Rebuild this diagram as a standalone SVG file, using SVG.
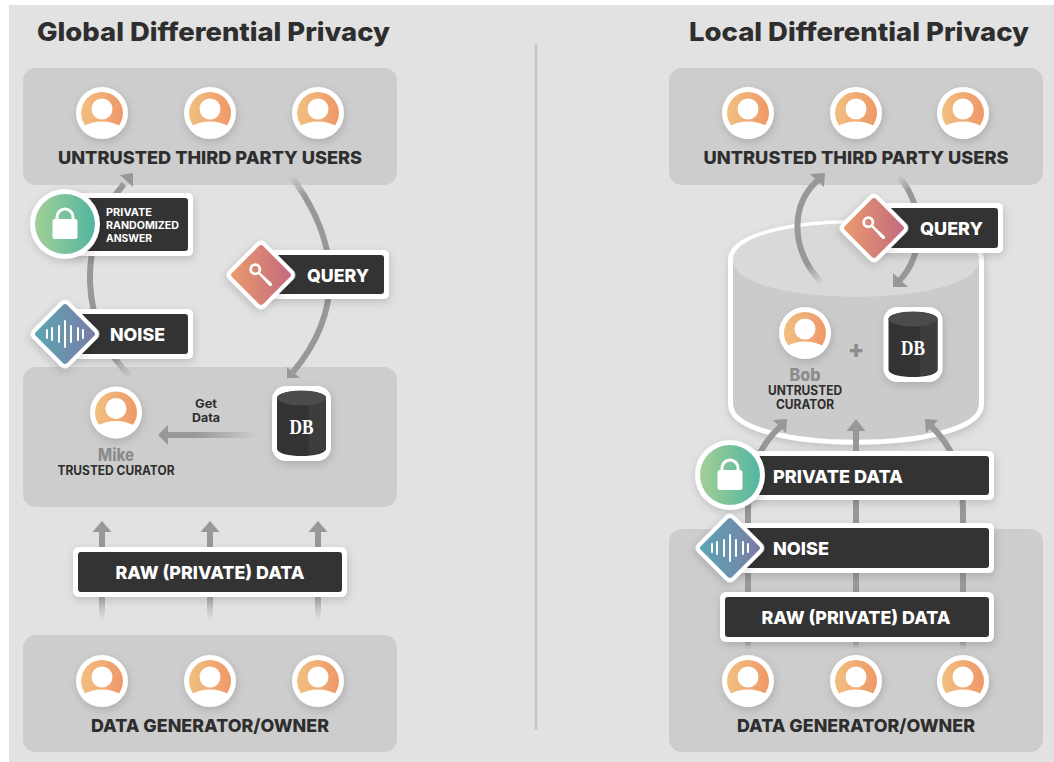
<svg xmlns="http://www.w3.org/2000/svg" width="1054" height="762" viewBox="0 0 1054 762">
<style>
text{font-family:Inter,"Liberation Sans",Arial,sans-serif;font-weight:800}
.panel{fill:#cdcdcd}
.lab{fill:#333}
.w{fill:#fff}
.t{fill:#2e2e2e}
.g{fill:#8c8c8c}
.arc{fill:none;stroke-width:6}
.head{fill:#989898}
.m{text-anchor:middle}
.box{fill:#fff;filter:url(#sh)}
.sm{font-weight:700}
</style>
<defs>
<filter id="sh" x="-30%" y="-30%" width="160%" height="170%"><feDropShadow dx="1" dy="3" stdDeviation="4" flood-color="#000" flood-opacity=".16"/></filter>
<linearGradient id="gp"><stop offset="0" stop-color="#f1c080"/><stop offset="1" stop-color="#ef9868"/></linearGradient>
<linearGradient id="gl"><stop offset="0" stop-color="#a2d096"/><stop offset="1" stop-color="#52b5a2"/></linearGradient>
<linearGradient id="gk" gradientUnits="userSpaceOnUse" x1="-30" y1="0" x2="30" y2="0" gradientTransform="rotate(-45)"><stop offset="0" stop-color="#ea9a6e"/><stop offset="1" stop-color="#c36a7e"/></linearGradient>
<linearGradient id="gn" gradientUnits="userSpaceOnUse" x1="-30" y1="0" x2="30" y2="0" gradientTransform="rotate(-45)"><stop offset="0" stop-color="#5ca6b4"/><stop offset="1" stop-color="#7a7ca6"/></linearGradient>
<linearGradient id="f1" gradientUnits="userSpaceOnUse" x1="132" y1="378" x2="112" y2="356"><stop offset="0" stop-color="#989898" stop-opacity="0"/><stop offset="1" stop-color="#989898"/></linearGradient>
<linearGradient id="f2" gradientUnits="userSpaceOnUse" x1="257" y1="0" x2="195" y2="0"><stop offset="0" stop-color="#989898" stop-opacity="0"/><stop offset="1" stop-color="#989898"/></linearGradient>
<linearGradient id="f3" gradientUnits="userSpaceOnUse" x1="0" y1="620" x2="0" y2="590"><stop offset="0" stop-color="#989898" stop-opacity="0"/><stop offset="1" stop-color="#989898"/></linearGradient>
<linearGradient id="f4" gradientUnits="userSpaceOnUse" x1="823" y1="283" x2="808" y2="265"><stop offset="0" stop-color="#989898" stop-opacity="0"/><stop offset="1" stop-color="#989898"/></linearGradient>
<linearGradient id="f5" gradientUnits="userSpaceOnUse" x1="290" y1="175" x2="305" y2="195"><stop offset="0" stop-color="#989898" stop-opacity="0"/><stop offset="1" stop-color="#989898"/></linearGradient>
<linearGradient id="f6" gradientUnits="userSpaceOnUse" x1="898" y1="176" x2="908" y2="190"><stop offset="0" stop-color="#989898" stop-opacity="0"/><stop offset="1" stop-color="#989898"/></linearGradient>
<linearGradient id="f7" gradientUnits="userSpaceOnUse" x1="0" y1="649" x2="0" y2="640"><stop offset="0" stop-color="#989898" stop-opacity="0"/><stop offset="1" stop-color="#989898"/></linearGradient>
<clipPath id="pc"><circle r="25.500"/></clipPath>
<g id="person">
<circle r="26" class="w" filter="url(#sh)"/>
<circle r="21" fill="url(#gp)"/>
<circle cy="-4" r="10.500" class="w"/>
<ellipse cy="27" rx="28" ry="18.500" class="w" clip-path="url(#pc)"/>
</g>
<g id="lock">
<circle r="35" class="w" filter="url(#sh)"/>
<circle r="30" fill="url(#gl)"/>
<rect x="-12.500" y="-5" width="25" height="20" rx="2.500" class="w"/>
<path d="M-8-4V-7A8 8 0 0 1 8-7V-4" fill="none" stroke="#fff" stroke-width="3"/>
</g>
<g id="key">
<rect x="-26" y="-26" width="52" height="52" rx="6" transform="rotate(45)" class="w" filter="url(#sh)"/>
<rect x="-22" y="-22" width="44" height="44" rx="3" transform="rotate(45)" fill="url(#gk)"/>
<circle cx="-5.700" cy="-5.700" r="4.600" fill="none" stroke="#fff" stroke-width="2.800"/>
<path d="M-3-1.500L-1.500-3L11 8.500Q11.500 11.500 8.500 11Z" fill="#fff"/>
</g>
<g id="wave">
<rect x="-26" y="-26" width="52" height="52" rx="6" transform="rotate(45)" class="w" filter="url(#sh)"/>
<rect x="-22" y="-22" width="44" height="44" rx="3" transform="rotate(45)" fill="url(#gn)"/>
<path d="M-18-4V4M-13-6V6M-6-8V8M0-13V13M6-8V8M13-6V6M18-4V4" stroke="#fff" stroke-width="2" stroke-linecap="round"/>
</g>
<g id="db">
<rect x="-29.500" y="-37.500" width="59" height="75" rx="14" class="w" filter="url(#sh)"/>
<path d="M-24.500-25.500C-24.500-35 24.500-35 24.500-25.500V25C24.500 35 -24.500 35 -24.500 25Z" fill="#333"/>
<path d="M7-31.500C15-30.500 24.500-29 24.500-25.500V25C24.500 28 17 30.500 7 31.500Z" fill="#3d3d3d"/>
<ellipse cy="-25.500" rx="24.500" ry="7.500" fill="#4b4b4b"/>
<text y="10.500" class="w m" font-size="20" style="font-family:'Liberation Serif',serif;font-weight:700" textLength="24" lengthAdjust="spacingAndGlyphs">DB</text>
</g>
</defs>
<rect width="1054" height="762" fill="#fff"/>
<rect x="9" y="5" width="1045" height="757" fill="#e2e2e2"/>
<rect x="534.500" y="44" width="3" height="686" fill="#c9c9c9"/>
<text x="37" y="41" font-size="26" class="t" textLength="353" lengthAdjust="spacingAndGlyphs">Global Differential Privacy</text>
<text x="689" y="41" font-size="26" class="t" textLength="340" lengthAdjust="spacingAndGlyphs">Local Differential Privacy</text>
<g id="panels">
<rect class="panel" x="23" y="68" width="374" height="117" rx="13"/>
<rect class="panel" x="23" y="367" width="374" height="140" rx="13"/>
<rect class="panel" x="23" y="635" width="374" height="117" rx="13"/>
<rect class="panel" x="669" y="68" width="374" height="117" rx="13"/>
<rect class="panel" x="669" y="529" width="374" height="223" rx="13"/>
</g>
<g id="curator-cylinder">
<path d="M730.500 260C730.500 210 981.500 210 981.500 260V404C981.500 455 730.500 455 730.500 404Z" fill="#cbcbcb" stroke="#fff" stroke-width="5" filter="url(#sh)"/>
<path d="M733 260C733 211 979 211 979 260C979 309 733 309 733 260Z" fill="#d9d9d9"/>
</g>
<g id="connectors">
<path class="arc" stroke="url(#f1)" d="M132 378C80 330 75 240 124 184"/>
<polygon class="head" points="120,175 133,173 133,187"/>
<path class="arc" stroke="url(#f5)" d="M290 175C340 240 345 310 293 372"/>
<polygon class="head" points="287,367 287,378 300,378"/>
<path class="arc" stroke="url(#f2)" d="M257 435H165"/>
<polygon class="head" points="158,435 168,425 168,445"/>
<path class="arc" stroke="url(#f3)" d="M102 620V530M210 620V530M318 620V530"/>
<polygon class="head" points="102,521 92.500,532 111.500,532"/>
<polygon class="head" points="210,521 200.500,532 219.500,532"/>
<polygon class="head" points="318,521 308.500,532 327.500,532"/>
<path class="arc" stroke="url(#f4)" d="M822 283C790 250 790 205 818 180"/>
<polygon class="head" points="810,174 825,173 824,187"/>
<path class="arc" stroke="url(#f6)" d="M898 176C925 205 925 255 899 281"/>
<polygon class="head" points="893,273 893,287 908,287"/>
<path class="arc" stroke="url(#f7)" d="M748 649V510C748 470 760 445 781 426M856 649V430M963 649V510C963 470 951 445 931 426"/>
<polygon class="head" points="773,420 787,419 786,433"/>
<polygon class="head" points="856,419 846.500,431 865.500,431"/>
<polygon class="head" points="938,420 925,419 926,433"/>
</g>
<g id="third-party-global">
<use href="#person" x="102" y="113"/><use href="#person" x="210" y="113"/><use href="#person" x="318" y="113"/>
<text x="210" y="163.500" font-size="18" class="t m" textLength="304" lengthAdjust="spacingAndGlyphs">UNTRUSTED THIRD PARTY USERS</text>
</g>
<g id="owners-global">
<use href="#person" x="102" y="681"/><use href="#person" x="210" y="681"/><use href="#person" x="318" y="681"/>
<text x="210" y="731.500" font-size="18" class="t m" textLength="238" lengthAdjust="spacingAndGlyphs">DATA GENERATOR/OWNER</text>
</g>
<g id="answer-label">
<rect class="box" x="70" y="193" width="123" height="63" rx="5"/>
<rect class="lab" x="70" y="198" width="118" height="53" rx="3"/>
<use href="#lock" x="65" y="224"/>
<text class="w sm" font-size="10" x="106" y="216" textLength="46" lengthAdjust="spacingAndGlyphs">PRIVATE</text>
<text class="w sm" font-size="10" x="106" y="229" textLength="73" lengthAdjust="spacingAndGlyphs">RANDOMIZED</text>
<text class="w sm" font-size="10" x="106" y="242" textLength="46" lengthAdjust="spacingAndGlyphs">ANSWER</text>
</g>
<g id="noise-global">
<rect class="box" x="70" y="309" width="123" height="50" rx="5"/>
<rect class="lab" x="70" y="314" width="118" height="40" rx="3"/>
<use href="#wave" x="65" y="334"/>
<text class="w" font-size="18" x="110" y="340.500" textLength="55" lengthAdjust="spacingAndGlyphs">NOISE</text>
</g>
<g id="query-global">
<rect class="box" x="266" y="250" width="123" height="49" rx="5"/>
<rect class="lab" x="266" y="255" width="118" height="39" rx="3"/>
<use href="#key" x="261" y="275"/>
<text class="w" font-size="18" x="307" y="281.500" textLength="62" lengthAdjust="spacingAndGlyphs">QUERY</text>
</g>
<g id="mike">
<use href="#person" x="116" y="412.500"/>
<text x="116" y="461" font-size="17" class="g m" textLength="36" lengthAdjust="spacingAndGlyphs">Mike</text>
<text x="116" y="475" font-size="12.500" class="t m sm" textLength="117" lengthAdjust="spacingAndGlyphs">TRUSTED CURATOR</text>
</g>
<g id="get-data">
<text x="206" y="408" font-size="12" class="t m sm" textLength="22" lengthAdjust="spacingAndGlyphs">Get</text>
<text x="206" y="422" font-size="12" class="t m sm" textLength="28" lengthAdjust="spacingAndGlyphs">Data</text>
</g>
<g id="db-global"><use href="#db" x="301.500" y="423.500"/></g>
<g id="raw-global">
<rect class="box" x="73" y="547" width="274" height="50" rx="6"/>
<rect class="lab" x="78" y="552" width="264" height="40" rx="3"/>
<text class="w m" font-size="18" x="210" y="578.500" textLength="189" lengthAdjust="spacingAndGlyphs">RAW (PRIVATE) DATA</text>
</g>
<g id="third-party-local">
<use href="#person" x="748" y="113"/><use href="#person" x="856" y="113"/><use href="#person" x="963" y="113"/>
<text x="856" y="163.500" font-size="18" class="t m" textLength="305" lengthAdjust="spacingAndGlyphs">UNTRUSTED THIRD PARTY USERS</text>
</g>
<g id="query-local">
<rect class="box" x="880" y="203" width="123" height="50" rx="5"/>
<rect class="lab" x="880" y="208" width="118" height="40" rx="3"/>
<use href="#key" x="874" y="228"/>
<text class="w" font-size="18" x="920" y="234.500" textLength="63" lengthAdjust="spacingAndGlyphs">QUERY</text>
</g>
<g id="bob">
<use href="#person" x="805" y="333"/>
<text x="805" y="381" font-size="17" class="g m" textLength="31" lengthAdjust="spacingAndGlyphs">Bob</text>
<text x="805" y="395" font-size="12.500" class="t m sm" textLength="74" lengthAdjust="spacingAndGlyphs">UNTRUSTED</text>
<text x="805" y="409" font-size="12.500" class="t m sm" textLength="58" lengthAdjust="spacingAndGlyphs">CURATOR</text>
</g>
<g id="plus"><text x="856" y="358" font-size="25" class="g m">+</text></g>
<g id="db-local"><use href="#db" x="913" y="344.500"/></g>
<g id="private-data">
<rect class="box" x="735" y="451" width="259" height="49" rx="5"/>
<rect class="lab" x="735" y="456" width="254" height="39" rx="3"/>
<use href="#lock" x="730" y="475"/>
<text class="w" font-size="18" x="773" y="482.500" textLength="130" lengthAdjust="spacingAndGlyphs">PRIVATE DATA</text>
</g>
<g id="noise-local">
<rect class="box" x="735" y="523" width="259" height="50" rx="5"/>
<rect class="lab" x="735" y="528" width="254" height="40" rx="3"/>
<use href="#wave" x="730" y="548"/>
<text class="w" font-size="18" x="773" y="554.500" textLength="56" lengthAdjust="spacingAndGlyphs">NOISE</text>
</g>
<g id="raw-local">
<rect class="box" x="720" y="592" width="274" height="50" rx="6"/>
<rect class="lab" x="725" y="597" width="264" height="40" rx="3"/>
<text class="w m" font-size="18" x="856" y="623.500" textLength="189" lengthAdjust="spacingAndGlyphs">RAW (PRIVATE) DATA</text>
</g>
<g id="owners-local">
<use href="#person" x="748" y="681"/><use href="#person" x="856" y="681"/><use href="#person" x="963" y="681"/>
<text x="856" y="731.500" font-size="18" class="t m" textLength="238" lengthAdjust="spacingAndGlyphs">DATA GENERATOR/OWNER</text>
</g>
</svg>
